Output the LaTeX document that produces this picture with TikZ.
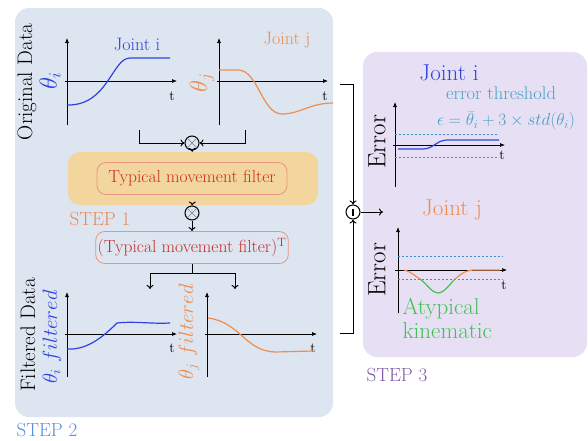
\documentclass[tikz,border=0pt]{standalone}
\usetikzlibrary{arrows.meta}
\definecolor{panelblue}{HTML}{DDE5F1}
\definecolor{panelviolet}{HTML}{E7E0F5}
\definecolor{boxorange}{HTML}{F3D69E}
\definecolor{jblue}{HTML}{2F43E0}
\definecolor{jorange}{HTML}{F08C50}
\definecolor{thrteal}{HTML}{4A9FC4}
\definecolor{thrdash}{HTML}{3A8FC8}
\definecolor{atygreen}{HTML}{45BF55}
\definecolor{filtred}{HTML}{C62D2A}
\definecolor{filtedge}{HTML}{E9957F}
\definecolor{stepone}{HTML}{E8895A}
\definecolor{steptwo}{HTML}{5A8ED8}
\definecolor{stepthree}{HTML}{7B5AA6}

\begin{document}
\begin{tikzpicture}[x=1pt,y=-1pt,
		axis/.style={-{Latex[length=5pt,width=4pt]},line width=0.7pt},
		link/.style={-{To[length=4pt,width=7pt]},line width=1pt},
		curve/.style={line width=1.2pt},
		thr/.style={thrdash,line width=1pt,dash pattern=on 2pt off 2pt},
		opcirc/.style={circle,draw,line width=1pt,minimum size=14pt,inner sep=0pt},
		filtbox/.style={draw=filtedge,line width=0.8pt,rounded corners=9pt,inner xsep=2pt,
			minimum width=190pt,minimum height=32pt,text=filtred,font=\fontsize{17.5}{20}\selectfont},
		big/.style={font=\fontsize{21}{24}\selectfont},
		steplabel/.style={font=\fontsize{19}{22}\selectfont},
		tlabel/.style={font=\fontsize{14}{16}\selectfont}]
		\useasboundingbox (0,0) rectangle (588,440);
		
		% panels
		\fill[panelblue,rounded corners=14pt] (15,8) rectangle (333,417);
		\fill[panelviolet,rounded corners=14pt] (363,52) rectangle (587,357);
		
		\node[steplabel,text=steptwo] at (47,430) {STEP 2};
		\node[steplabel,text=stepthree] at (397,375) {STEP 3};
		\node[steplabel,text=stepone] at (100,219) {STEP 1};
		
		% original data
		\node[big,rotate=90] at (27,82) {Original Data};
		\node[rotate=90,text=jblue,font=\fontsize{27}{30}\selectfont] at (50,81) {$\theta_i$};
		\node[rotate=90,text=jorange,font=\fontsize{27}{30}\selectfont] at (202,83) {$\theta_j$};
		\node[text=jblue,font=\fontsize{18}{21}\selectfont] at (137,44) {Joint i};
		\node[text=jorange,font=\fontsize{18}{21}\selectfont] at (287,40) {Joint j};
		
		\draw[axis] (67,125) -- (67,38);
		\draw[axis] (65,81) -- (177,81);
		\node[tlabel] at (172,96) {t};
		\draw[curve,jblue] (67,105) .. controls (108,106) and (112,58) .. (130,58) -- (170,58);
		
		\draw[axis] (219,125) -- (219,38);
		\draw[axis] (217,81) -- (328,81);
		\node[tlabel] at (325,96) {t};
		\draw[curve,jorange] (219,70) -- (238,70) .. controls (258,70) and (262,114) .. (282,114)
			.. controls (300,114) and (310,103) .. (333,103);
		
		% filter
		\node[fill=boxorange,rounded corners=12pt,minimum width=250pt,minimum height=53pt] (tmf) at (193,178.5) {};
		\node[filtbox] (filt) at (192,178.5) {Typical movement filter};
		\node[filtbox] (filtT) at (192,247.5) {(Typical movement filter)$^{\mathrm{T}}$};
		
		\node[opcirc] (mul1) at (192,143) {};
		\draw[gray,line width=0.6pt] (mul1.north east) -- (mul1.south west) (mul1.north west) -- (mul1.south east);
		\node[opcirc] (mul2) at (192,213) {};
		\draw[gray,line width=0.6pt] (mul2.north east) -- (mul2.south west) (mul2.north west) -- (mul2.south east);
		
		\coordinate (li) at (139,130);
		\coordinate (lj) at (245,130);
		\draw[link] (li) |- (mul1);
		\draw[link] (lj) |- (mul1);
		\draw[link] (mul1) -- (tmf);
		\draw[link] (tmf) -- (mul2);
		\draw[link] (mul2) -- (filtT);
		
		\coordinate (split) at (192,273);
		\coordinate (fi) at (150,289);
		\coordinate (fj) at (235,289);
		\draw[line width=1pt] (filtT) -- (split);
		\draw[link] (split) -| (fi);
		\draw[link] (split) -| (fj);
		
		% filtered data
		\node[big,rotate=90] at (28,335) {Filtered Data};
		\node[rotate=90,text=jblue,font=\fontsize{22}{24}\selectfont] at (52,337) {$\theta_i\ filtered$};
		\node[rotate=90,text=jorange,font=\fontsize{22}{24}\selectfont] at (189,332) {$\theta_j\ filtered$};
		
		\draw[axis] (67,377) -- (67,292);
		\draw[axis] (65,334) -- (177,334);
		\node[tlabel] at (172,348) {t};
		\draw[curve,jblue] (67,349) .. controls (85,350) and (100,340) .. (117,323)
			.. controls (135,321) and (150,324) .. (170,323);
		
		\draw[axis] (207,377) -- (207,292);
		\draw[axis] (205,334) -- (317,334);
		\node[tlabel] at (313,348) {t};
		\draw[curve,jorange] (208,318) .. controls (240,322) and (245,351) .. (275,352) -- (313,351);
		
		% error
		\node[opcirc] (diff) at (353,212) {};
		\draw[line width=1.4pt] ([yshift=-3.5pt]diff.center) -- ([yshift=3.5pt]diff.center);
		\coordinate (ei) at (340,84);
		\coordinate (ej) at (340,333);
		\coordinate (out) at (383,212);
		\draw[link] (ei) -| (diff);
		\draw[link] (ej) -| (diff);
		\draw[link] (diff) -- (out);
		
		\node[text=jblue,font=\fontsize{23}{26}\selectfont] at (449,73) {Joint i};
		\node[text=thrteal,inner sep=0pt,font=\fontsize{18.5}{21}\selectfont] at (501,93) {error threshold};
		\node[text=thrteal,inner sep=0pt,font=\fontsize{18.5}{21}\selectfont] at (506,121) {$\epsilon = \bar{\theta}_i + 3 \times std(\theta_i)$};
		\node[rotate=90,font=\fontsize{25}{28}\selectfont] at (377,142) {Error};
		\draw[axis] (395,187) -- (395,102);
		\draw[axis] (393,145) -- (505,145);
		\node[tlabel] at (502,155) {t};
		\draw[thr] (395,134) -- (499,134);
		\draw[thr] (395,157) -- (499,157);
		\draw[curve,jblue] (398,149) -- (423,149) .. controls (433,149) and (437,140) .. (447,140) -- (499,140);
		
		\node[text=jorange,font=\fontsize{23}{26}\selectfont] at (452,210) {Joint j};
		\node[rotate=90,font=\fontsize{25}{28}\selectfont] at (377,270) {Error};
		\draw[axis] (398,313) -- (398,227);
		\draw[axis] (395,270) -- (507,270);
		\node[tlabel] at (504,285) {t};
		\draw[thr] (398,256) -- (503,256);
		\draw[thr] (398,279) -- (503,279);
		\draw[curve,jorange] (404,270) .. controls (410,271) and (415,276) .. (420,279);
		\draw[curve,atygreen] (420,279) .. controls (428,285) and (432,293) .. (438,293)
			.. controls (444,293) and (450,284) .. (455,279);
		\draw[curve,jorange] (455,279) .. controls (462,273) and (466,270) .. (475,270) -- (500,270);
		\node[text=atygreen,align=left,anchor=west,font=\fontsize{23}{24}\selectfont] at (399,318) {Atypical\\kinematic};
	\end{tikzpicture}
\end{document}
